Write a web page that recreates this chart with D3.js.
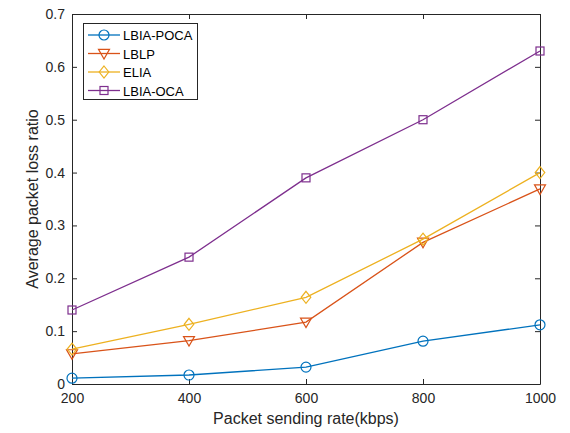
<!DOCTYPE html>
<html><head><meta charset="utf-8">
<script src="https://d3js.org/d3.v7.min.js"></script>
<style>body{margin:0;background:#fff}svg{display:block}</style>
</head><body>
<script>
const xValues = [200, 400, 600, 800, 1000];
const seriesNames = ["LBIA-POCA", "LBLP", "ELIA", "LBIA-OCA"];
const lbiaPoca = [0.011, 0.017, 0.032, 0.081, 0.112];
const lblp = [0.057, 0.082, 0.117, 0.268, 0.369];
const elia = [0.066, 0.113, 0.164, 0.274, 0.400];
const lbiaOca = [0.140, 0.240, 0.390, 0.500, 0.630];
const xTicks = [200, 400, 600, 800, 1000];
const yTicks = [0, 0.1, 0.2, 0.3, 0.4, 0.5, 0.6, 0.7];

const colors = ["#0072BD", "#D95319", "#EDB120", "#7E2F8E"];
const markers = ["circle", "triangle", "diamond", "square"];
const allSeries = [lbiaPoca, lblp, elia, lbiaOca];

const W = 570, H = 433;
const m = {l: 72, r: 30, t: 14, b: 49};
const svg = d3.select("body").append("svg").attr("width", W).attr("height", H);
const x = d3.scaleLinear().domain([200, 1000]).range([m.l, W - m.r]);
const y = d3.scaleLinear().domain([0, 0.7]).range([H - m.b, m.t]);
const font = "'Liberation Sans', Arial, sans-serif";
const axCol = "#262626";

// Axes
const gx = svg.append("g").attr("transform", `translate(0,${H - m.b})`)
  .call(d3.axisBottom(x).tickValues(xTicks).tickFormat(d3.format("d")).tickSizeInner(-5).tickSizeOuter(0).tickPadding(9));
const gy = svg.append("g").attr("transform", `translate(${m.l},0)`)
  .call(d3.axisLeft(y).tickValues(yTicks).tickFormat(d => d === 0 ? "0" : d3.format(".1f")(d)).tickSizeInner(-5).tickSizeOuter(0).tickPadding(7));
const gxt = svg.append("g").attr("transform", `translate(0,${m.t})`)
  .call(d3.axisTop(x).tickValues(xTicks).tickFormat("").tickSizeInner(-5).tickSizeOuter(0));
const gyr = svg.append("g").attr("transform", `translate(${W - m.r},0)`)
  .call(d3.axisRight(y).tickValues(yTicks).tickFormat("").tickSizeInner(-5).tickSizeOuter(0));
[gx, gy, gxt, gyr].forEach(g => {
  g.selectAll("path").attr("stroke", axCol).attr("stroke-width", 1);
  g.selectAll("line").attr("stroke", axCol).attr("stroke-width", 1);
  g.selectAll("text").attr("fill", axCol).style("font-family", font).style("font-size", "14px");
});

// Axis labels
svg.append("text").attr("x", (m.l + W - m.r) / 2).attr("y", 424).attr("text-anchor", "middle")
  .attr("fill", axCol).style("font-family", font).style("font-size", "16px").text("Packet sending rate(kbps)");
svg.append("text").attr("transform", `translate(38,${(m.t + H - m.b) / 2}) rotate(-90)`).attr("text-anchor", "middle")
  .attr("fill", axCol).style("font-family", font).style("font-size", "16px").text("Average packet loss ratio");

function drawMarker(g, type, cx, cy, color) {
  if (type === "circle") {
    g.append("circle").attr("cx", cx).attr("cy", cy).attr("r", 5).attr("fill", "none").attr("stroke", color).attr("stroke-width", 1.2);
  } else if (type === "triangle") {
    const s = 5.5;
    g.append("path").attr("d", `M${cx - s},${cy - s * 0.75}L${cx + s},${cy - s * 0.75}L${cx},${cy + s}Z`)
      .attr("fill", "none").attr("stroke", color).attr("stroke-width", 1.2);
  } else if (type === "diamond") {
    const s = 6;
    g.append("path").attr("d", `M${cx},${cy - s}L${cx + s * 0.8},${cy}L${cx},${cy + s}L${cx - s * 0.8},${cy}Z`)
      .attr("fill", "none").attr("stroke", color).attr("stroke-width", 1.2);
  } else {
    const s = 4;
    g.append("rect").attr("x", cx - s).attr("y", cy - s).attr("width", 2 * s).attr("height", 2 * s)
      .attr("fill", "none").attr("stroke", color).attr("stroke-width", 1.2);
  }
}

const line = d3.line().x((d, i) => x(xValues[i])).y(d => y(d));
allSeries.forEach((s, k) => {
  const g = svg.append("g");
  g.append("path").datum(s).attr("d", line).attr("fill", "none").attr("stroke", colors[k]).attr("stroke-width", 1.3);
  s.forEach((v, i) => drawMarker(g, markers[k], x(xValues[i]), y(v), colors[k]));
});

// Legend
const lg = svg.append("g");
lg.append("rect").attr("x", 83.5).attr("y", 23.5).attr("width", 114).attr("height", 76)
  .attr("fill", "#fff").attr("stroke", axCol).attr("stroke-width", 1);
seriesNames.forEach((n, k) => {
  const yy = 35 + k * 18.5;
  lg.append("line").attr("x1", 88).attr("x2", 120).attr("y1", yy).attr("y2", yy).attr("stroke", colors[k]).attr("stroke-width", 1.3);
  drawMarker(lg, markers[k], 104, yy, colors[k]);
  lg.append("text").attr("x", 123).attr("y", yy + 5).attr("fill", "#000").style("font-family", font).style("font-size", "13px").text(n);
});
</script>
</body></html>
